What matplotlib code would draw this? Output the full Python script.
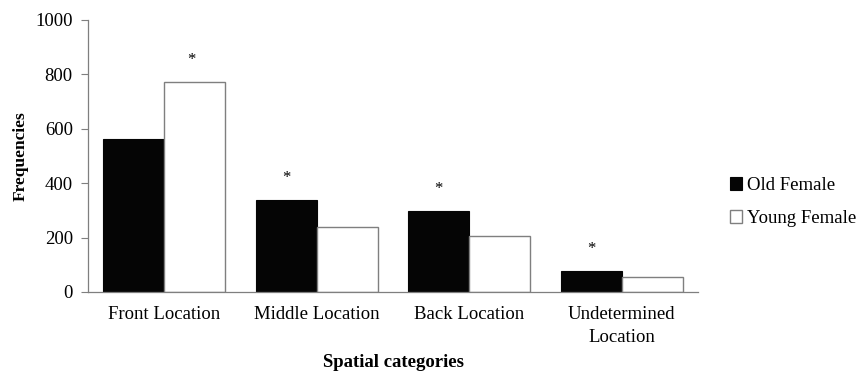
import numpy as np
import matplotlib
matplotlib.use("Agg")
import matplotlib.pyplot as plt

plt.rcParams['font.family'] = ['Liberation Serif', 'DejaVu Serif']

categories = ["Front Location", "Middle Location", "Back Location", "Undetermined\nLocation"]
old_female = [562, 338, 298, 77]
young_female = [773, 239, 206, 54]
# which series carries the significance marker in each category
star_on_young = [True, False, False, False]

fig = plt.figure(figsize=(8.58, 3.73), dpi=100)
ax = fig.add_axes([0.1026, 0.2172, 0.7109, 0.7292])

x = np.arange(len(categories))
w = 0.4
edge = "#7f7f7f"
ax.bar(x - w / 2, old_female, w, color="#050505", edgecolor="#050505", linewidth=0.8, label="Old Female")
ax.bar(x + w / 2, young_female, w, color="white", edgecolor=edge, linewidth=1.0, label="Young Female")

for i in range(len(categories)):
    if star_on_young[i]:
        xs, ys = x[i] + w / 2 - 0.02, young_female[i]
    else:
        xs, ys = x[i] - w / 2, old_female[i]
    ax.text(xs, ys + 50, "*", ha="center", va="bottom", fontsize=12)

ax.set_xlim(-0.5, len(categories) - 0.5)
ax.set_ylim(0, 1000)
ax.set_yticks([0, 200, 400, 600, 800, 1000])
ax.set_xticks(x)
ax.set_xticklabels(categories, fontsize=13.5, linespacing=1.45)
ax.tick_params(axis="y", labelsize=13.5, length=5, color=edge, width=0.8, pad=6)
ax.tick_params(axis="x", length=0, pad=10)
for s in ["top", "right"]:
    ax.spines[s].set_visible(False)
for s in ["left", "bottom"]:
    ax.spines[s].set_color(edge)
    ax.spines[s].set_linewidth(0.9)

ax.set_ylabel("Frequencies", fontsize=12.5, fontweight="bold", labelpad=5)

# axis title placed in figure coordinates, centred under the plot area
bbox = ax.get_position()
fig.text((bbox.x0 + bbox.x1) / 2, 0.017, "Spatial categories", ha="center", va="baseline",
         fontsize=13.5, fontweight="bold")

ax.legend(loc="upper left", bbox_to_anchor=(1.04, 0.45), frameon=False, fontsize=13.5,
          handlelength=0.62, handleheight=0.62, handletextpad=0.3, labelspacing=0.85,
          borderaxespad=0)

fig.savefig("out.png", dpi=100)
